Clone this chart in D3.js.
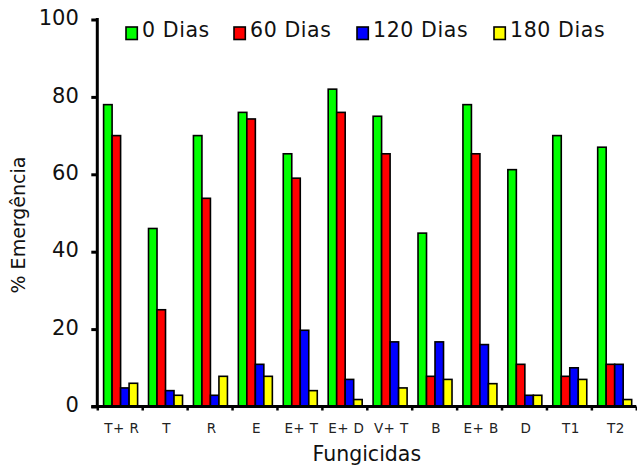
<!DOCTYPE html>
<html><head><meta charset="utf-8">
<script src="https://cdn.jsdelivr.net/npm/d3@7"></script>
<style>
body{margin:0;background:#fff;}
svg{display:block;font-family:"DejaVu Sans",Verdana,sans-serif;}
</style></head>
<body><svg id="c" width="637" height="468"></svg>
<script>
const categories = ["T+ R","T","R","E","E+ T","E+ D","V+ T","B","E+ B","D","T1","T2"];
const seriesNames = ["0 Dias","60 Dias","120 Dias","180 Dias"];
const dias0   = [78, 46, 70, 76, 65.3, 82, 75, 44.8, 78, 61.2, 70, 67];
const dias60  = [70, 25, 53.8, 74.3, 59, 76, 65.3, 7.8, 65.3, 10.9, 7.8, 10.9];
const dias120 = [4.8, 4.1, 2.9, 10.9, 19.7, 7, 16.7, 16.7, 16, 2.9, 10, 10.9];
const dias180 = [6, 2.9, 7.8, 7.8, 4.1, 1.8, 4.8, 7, 5.9, 2.9, 7, 1.8];
const yTicks = [0, 20, 40, 60, 80, 100];
const colors = ["#00ff00","#ff0000","#0000ff","#ffff00"];
const series = [dias0, dias60, dias120, dias180];

const svg = d3.select("#c");
const L = 97.3, R = 636.3, T = 19.5, B = 406.5;

const y = d3.scaleLinear().domain([0,100]).range([B,T]);
const x0 = d3.scaleBand().domain(categories).range([L,R]).padding(0);
const cw = x0.bandwidth();
const x1 = d3.scaleBand().domain(seriesNames).range([6.3, 6.3+34]).padding(0);
const xl = d3.scaleLinear().domain([0,categories.length]).range([L,R]);

// bars
const g = svg.append("g");
categories.forEach((c,i)=>{
  seriesNames.forEach((s,j)=>{
    const v = series[j][i];
    g.append("rect")
      .attr("x", x0(c)+x1(s))
      .attr("y", y(v))
      .attr("width", x1.bandwidth())
      .attr("height", y(0)-y(v))
      .attr("fill", colors[j])
      .attr("stroke","#000")
      .attr("stroke-width",1.6);
  });
});

// y axis
const ya = svg.append("g").attr("transform",`translate(${L},0)`)
  .call(d3.axisLeft(y).tickValues(yTicks).tickSize(6).tickPadding(12.5).tickFormat(d3.format("d")));
ya.select(".domain").attr("stroke","#000").attr("stroke-width",3).attr("d",`M0,${T-1.5}V${B}`);
ya.selectAll(".tick line").attr("stroke","#000").attr("stroke-width",3);
ya.selectAll(".tick text").attr("font-size",21).attr("fill","#111").attr("dy","0.25em").attr("font-family","DejaVu Sans");

// x axis boundary ticks
const xa = svg.append("g").attr("transform",`translate(0,${B})`)
  .call(d3.axisBottom(xl).tickValues(d3.range(0,categories.length+1)).tickSize(4).tickFormat(""));
xa.select(".domain").attr("stroke","#000").attr("stroke-width",3).attr("d",`M${L-6},0H${R}`);
xa.selectAll(".tick line").attr("stroke","#000").attr("stroke-width",2.5);

// x labels
svg.append("g").selectAll("text").data(categories).join("text")
  .attr("x", d=>x0(d)+cw/2+2)
  .attr("y", 433.3)
  .attr("text-anchor","middle")
  .attr("font-size",13.5)
  .attr("letter-spacing",0.4)
  .attr("fill","#222")
  .text(d=>d);

// axis titles
svg.append("text").attr("x",(L+R)/2).attr("y",461).attr("text-anchor","middle")
  .attr("font-size",20.5).attr("fill","#111").text("Fungicidas");
svg.append("text").attr("transform","translate(25,225) rotate(-90)").attr("text-anchor","middle")
  .attr("font-size",19).attr("fill","#111").text("% Emergência");

// legend
const legX = [126, 234, 357, 494];
const lg = svg.append("g");
seriesNames.forEach((s,j)=>{
  lg.append("rect").attr("x",legX[j]).attr("y",27).attr("width",11.3).attr("height",12.5)
    .attr("fill",colors[j]).attr("stroke","#000").attr("stroke-width",1.6);
  lg.append("text").attr("x",legX[j]+16).attr("y",36.5).attr("font-size",20.5)
    .attr("letter-spacing",0.6).attr("fill","#111").text(s);
});
</script>
</body></html>
